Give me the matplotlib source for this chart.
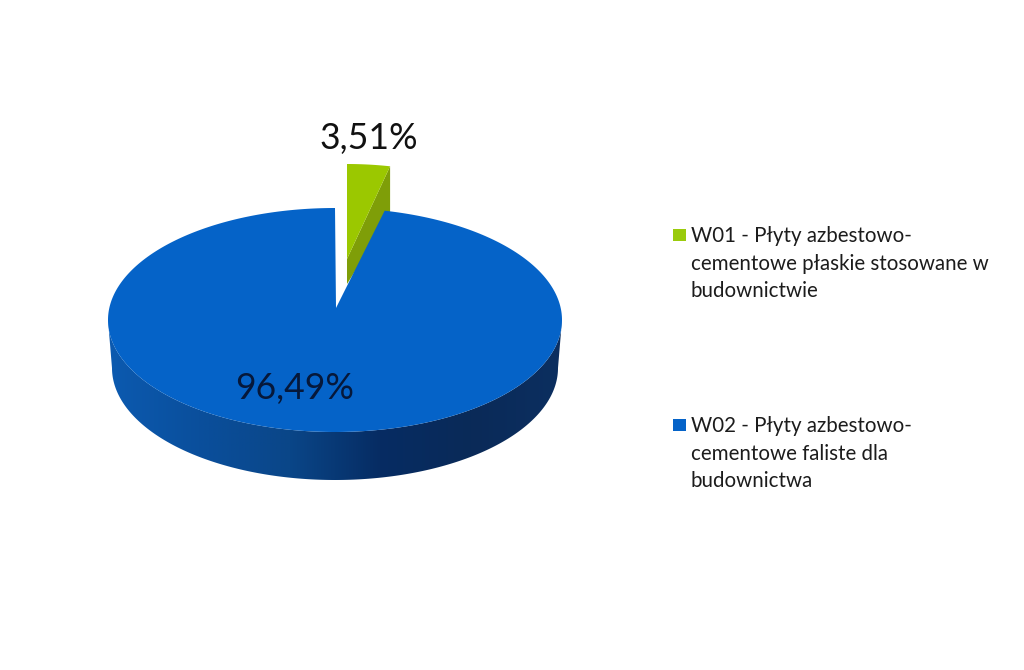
#!/usr/bin/python
# encoding: utf-8
import numpy as np
import matplotlib.pyplot as plt
from matplotlib.colors import LinearSegmentedColormap
from matplotlib.patches import Polygon, Rectangle

plt.rcParams['font.family'] = ['Lato', 'DejaVu Sans']

# %%
# Data:
shares = [3.51, 96.49]
legend_labels = ["W01 - Płyty azbestowo-\ncementowe płaskie stosowane w\nbudownictwie",
                 "W02 - Płyty azbestowo-\ncementowe faliste dla\nbudownictwa"]
top_colors = ['#9bc800', '#0563c8']
legend_colors = ['#9acb0c', '#0563c8']
green_side = '#7f9e08'
wall_colors = ['#0c5ab0', '#0a4f9c', '#0a4688', '#062c63', '#0a2a58', '#0c2f60']


def arc(cx, cy, rx, ry, start, stop, n=200):
    # angles in degrees, clockwise from the top of the pie
    t = np.radians(np.linspace(start, stop, n))
    return np.column_stack((cx + rx * np.sin(t), cy - ry * np.cos(t)))


def percent(v):
    return f"{v:.2f}%".replace('.', ',')


# %%
fig = plt.figure(figsize=(10.24, 6.7), dpi=100)
ax = fig.add_axes([0, 0, 1, 1])
ax.set_xlim(0, 1024)
ax.set_ylim(670, 0)
ax.axis('off')

sweep = 360 * shares[0] / sum(shares)

# Exploded green slice:
gx, gy, grx, gry, gdepth = 347, 259, 197, 95, 25
g_top = arc(gx, gy, grx, gry, 0, sweep)
g_edge = g_top[-1]
ax.add_patch(Polygon([(gx, gy), g_edge, (g_edge[0], g_edge[1] + gdepth + 24), (gx, gy + gdepth)],
                     fc=green_side, ec='none', zorder=2))
ax.add_patch(Polygon(np.vstack(([(gx, gy)], g_top)), fc=top_colors[0], ec='none', zorder=3))

# Side wall of the blue slice, with a horizontal gradient:
cx, cy, rx, ry, depth = 335, 320, 227, 112, 48
upper = arc(cx, cy, rx, ry, 90, 270)
lower = arc(cx, cy + depth, rx - 4, ry, 270, 90)
wall = Polygon(np.vstack((upper, lower)), fc='none', ec='none', zorder=2)
ax.add_patch(wall)
cmap = LinearSegmentedColormap.from_list('wall', wall_colors)
grad = np.linspace(0, 1, 256).reshape(1, -1)
img = ax.imshow(grad, cmap=cmap, extent=(cx - rx, cx + rx, cy + depth + ry, cy), aspect='auto', zorder=2)
img.set_clip_path(wall)
ax.set_xlim(0, 1024)
ax.set_ylim(670, 0)

# Top face of the blue slice, its tip sits a bit above the centre of the ellipse:
b_top = arc(cx, cy, rx, ry, sweep, 360, 400)
ax.add_patch(Polygon(np.vstack((b_top, [(cx + 1, cy - 12)])), fc=top_colors[1], ec='none', zorder=4))

# Data labels:
ax.text(369, 139, percent(shares[0]), fontsize=25.7, color='#111111', ha='center', va='center', zorder=5)
ax.text(295, 388, percent(shares[1]), fontsize=25.7, color='#06183a', ha='center', va='center', zorder=5)

# Legend:
legend_y = [234, 424]
for label, color, y in zip(legend_labels, legend_colors, legend_y):
    ax.add_patch(Rectangle((673, y - 5), 13, 12, fc=color, ec='none'))
    ax.text(691, y - 8, label, fontsize=14.8, color='#1c1c1c', ha='left', va='top', linespacing=1.48)

fig.savefig('out.png', dpi=100, facecolor='white')
